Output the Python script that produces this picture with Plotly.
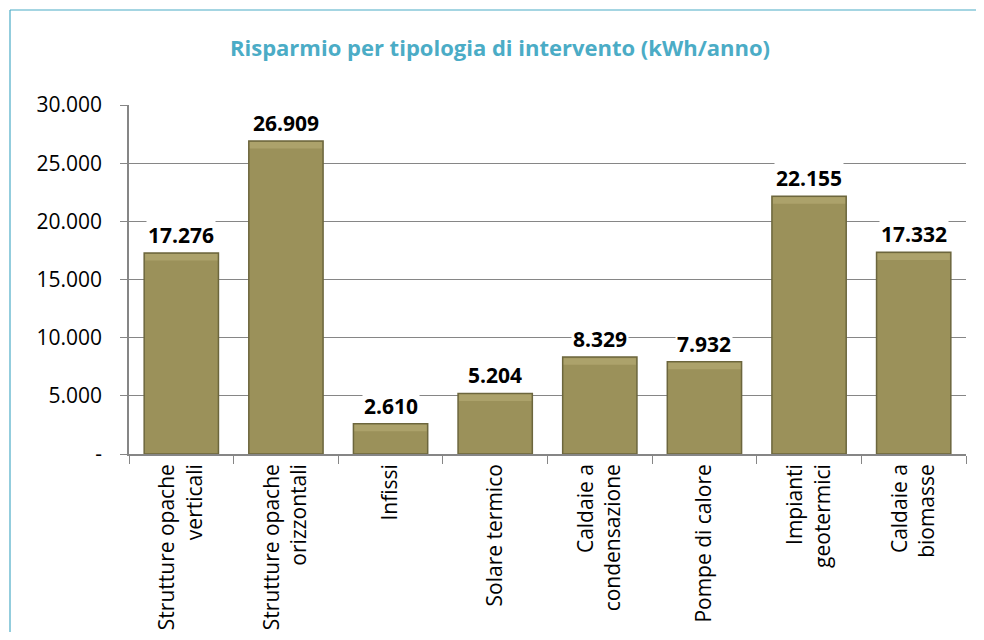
import plotly.graph_objects as go

categories = [
    "Strutture opache<br>verticali",
    "Strutture opache<br>orizzontali",
    "Infissi",
    "Solare termico",
    "Caldaie a<br>condensazione",
    "Pompe di calore",
    "Impianti<br>geotermici",
    "Caldaie a<br>biomasse",
]
values = [17276, 26909, 2610, 5204, 8329, 7932, 22155, 17332]
value_labels = ["17.276", "26.909", "2.610", "5.204", "8.329", "7.932", "22.155", "17.332"]
y_tickvals = [0, 5000, 10000, 15000, 20000, 25000, 30000]
y_ticktext = ["-", "5.000", "10.000", "15.000", "20.000", "25.000", "30.000"]

FONT = "Open Sans"
OFF = 8  # page body margin
W, H = 984 - 2 * OFF, 640 - 2 * OFF
L, T = 129 - OFF, 105 - OFF
R = W - (966 - OFF)
B = H - (454 - OFF)
BEVEL = 650   # lighter top bevel band, data units
GAP = 90      # keeps the bar's top outline visible

fig = go.Figure()
fig.add_trace(go.Bar(
    x=categories, y=values,
    marker=dict(color="#9B915A", line=dict(color="#6C663D", width=1.5)),
    width=0.71,
    hoverinfo="skip",
))
fig.add_trace(go.Bar(
    x=categories, y=[BEVEL - GAP] * len(values), base=[v - BEVEL for v in values],
    marker=dict(color="#ACA26B", line=dict(width=0)),
    width=0.69,
    hoverinfo="skip",
))

for c, v, t in zip(categories, values, value_labels):
    fig.add_annotation(
        x=c, y=v, text="<b>%s</b>" % t, showarrow=False,
        yanchor="bottom", yshift=2, bgcolor="white",
        font=dict(family=FONT, size=21, color="black"),
    )

pw = W - L - R
ph = H - T - B
bx0 = (10 - OFF - L) / pw
by1 = ((H - B) - (10 - OFF)) / ph
fig.add_shape(type="line", xref="paper", yref="paper",
              x0=bx0, x1=(1010 - L) / pw, y0=by1, y1=by1,
              line=dict(color="#4BACC6", width=1.2), layer="below")
fig.add_shape(type="line", xref="paper", yref="paper",
              x0=bx0, x1=bx0, y0=-(670 - (H - B)) / ph, y1=by1,
              line=dict(color="#4BACC6", width=1.2), layer="below")

fig.update_layout(
    width=W, height=H,
    margin=dict(l=L, r=R, t=T, b=B, autoexpand=False),
    paper_bgcolor="white", plot_bgcolor="white",
    showlegend=False,
    barmode="overlay",
    title=dict(
        text="<b>Risparmio per tipologia di intervento (kWh/anno)</b>",
        x=(500 - OFF) / W, xanchor="center", y=1 - (48 - OFF) / H, yanchor="middle",
        font=dict(family=FONT, size=22, color="#4BACC6"),
    ),
    font=dict(family=FONT, size=21, color="black"),
)
fig.update_xaxes(
    automargin=False,
    tickangle=-90, tickson="boundaries", ticks="outside", ticklen=8,
    tickcolor="#868686", showline=True, linecolor="#868686", linewidth=1.5,
    showgrid=False, tickfont=dict(family=FONT, size=21, color="black"),
)
fig.update_yaxes(
    automargin=False,
    range=[0, 30000], tickvals=y_tickvals, ticktext=y_ticktext,
    ticks="outside", ticklen=7, tickcolor="#868686", ticklabelstandoff=14,
    showline=True, linecolor="#868686", linewidth=1.5,
    showgrid=True, gridcolor="#868686", gridwidth=1, zeroline=False,
    tickfont=dict(family=FONT, size=21, color="black"),
)

fig.write_html("out.html")
